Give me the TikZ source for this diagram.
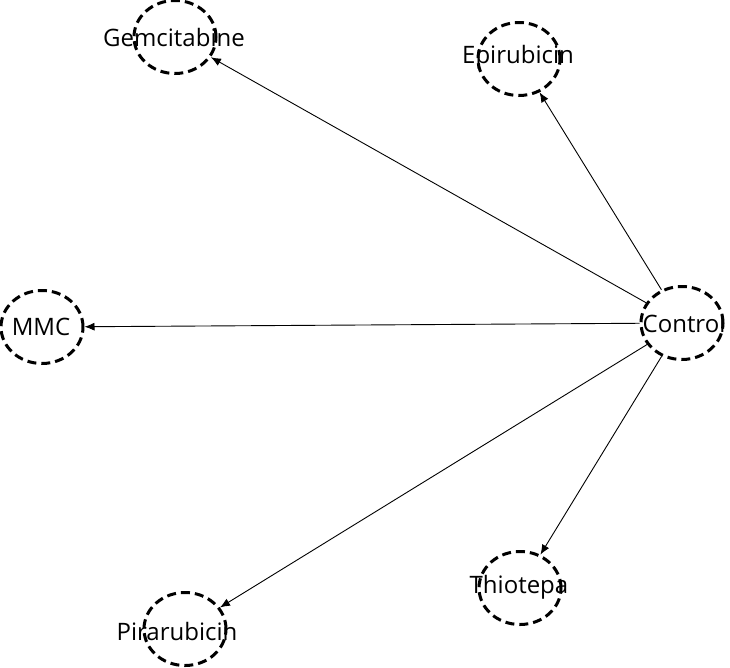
\documentclass[tikz,border=0pt]{standalone}
\usepackage{fontspec}
\setmainfont{Open Sans}
\usetikzlibrary{shapes.geometric,arrows.meta}
\begin{document}
\begin{tikzpicture}[x=1pt,y=-1pt,
  drug/.style={ellipse,draw=black,line width=3pt,dash pattern=on 9pt off 5pt,minimum width=82pt,minimum height=73pt,inner sep=0pt},
  lab/.style={font=\fontsize{24}{28}\selectfont,inner sep=0pt,text=black},
  edge/.style={line width=0.9pt,-{Latex[length=10pt,width=8pt]}}]
\useasboundingbox (0,0) rectangle (730,667);
\node[drug] (gem) at (175,37) {};
\node[drug] (epi) at (519,59) {};
\node[drug] (mmc) at (42,327) {};
\node[drug] (ctl) at (682,323) {};
\node[drug] (thio) at (520,588) {};
\node[drug] (pira) at (185,629) {};
\node[lab] at (174,37) {Gemcitabine};
\node[lab] at (518,57) {Epirubicin};
\node[lab] at (41,327) {MMC};
\node[lab] at (684,323) {Control};
\node[lab] at (519,587) {Thiotepa};
\node[lab] at (177,631) {Pirarubicin};
\draw[edge] (ctl) -- (gem);
\draw[edge] (ctl) -- (epi);
\draw[edge] (ctl) -- (mmc);
\draw[edge] (ctl) -- (thio);
\draw[edge] (ctl) -- (pira);
\end{tikzpicture}
\end{document}
